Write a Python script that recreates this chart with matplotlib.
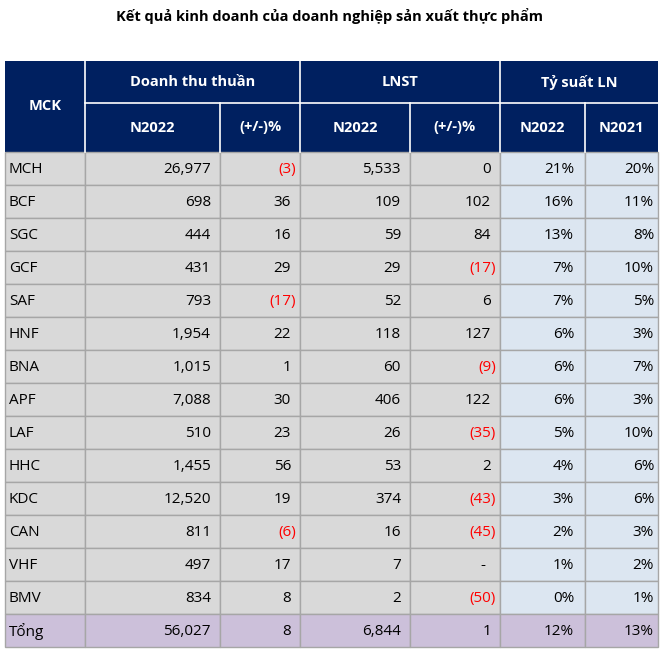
import matplotlib
matplotlib.use("Agg")
import matplotlib.pyplot as plt
from matplotlib.patches import Rectangle

plt.rcParams['font.family'] = ['Open Sans', 'DejaVu Sans']

title = "Kết quả kinh doanh của doanh nghiệp sản xuất thực phẩm"
tickers = ["MCH", "BCF", "SGC", "GCF", "SAF", "HNF", "BNA", "APF", "LAF", "HHC",
           "KDC", "CAN", "VHF", "BMV", "Tổng"]
revenue = [26977, 698, 444, 431, 793, 1954, 1015, 7088, 510, 1455, 12520, 811, 497, 834, 56027]
revenue_chg = [-3, 36, 16, 29, -17, 22, 1, 30, 23, 56, 19, -6, 17, 8, 8]
profit = [5533, 109, 59, 29, 52, 118, 60, 406, 26, 53, 374, 16, 7, 2, 6844]
profit_chg = [0, 102, 84, -17, 6, 127, -9, 122, -35, 2, -43, -45, None, -50, 1]
margin_2022 = [21, 16, 13, 7, 7, 6, 6, 6, 5, 4, 3, 2, 1, 0, 12]
margin_2021 = [20, 11, 8, 10, 5, 3, 7, 3, 10, 6, 6, 3, 2, 1, 13]
group_headers = ["Doanh thu thuần", "LNST", "Tỷ suất LN"]
sub_headers = ["N2022", "(+/-)%", "N2022", "(+/-)%", "N2022", "N2021"]

W, H = 660, 654
fig = plt.figure(figsize=(W / 100, H / 100), dpi=100)
ax = fig.add_axes([0, 0, 1, 1])
ax.set_xlim(0, W)
ax.set_ylim(H, 0)
ax.axis("off")

NAVY = "#002060"
GREY = "#D9D9D9"
BLUE = "#DCE6F1"
PURPLE = "#CCC0DA"
LINE = "#A6A6A6"
RED = "#FF0000"
FS = 11
FSH = 10.5

col_edges = [5, 85, 220, 300, 410, 500, 585, 658]
y_top, y_mid, y_head = 61, 103, 152
row_h = 33

ax.text(W / 2, 16, title, ha="center", va="center", fontsize=FSH, fontweight="bold", color="black")

# header background
ax.add_patch(Rectangle((col_edges[0], y_top), col_edges[-1] - col_edges[0], y_head - y_top,
                       facecolor=NAVY, edgecolor="none"))
lw_h = 1.2
for x in col_edges[1:-1]:
    if x in (col_edges[1], col_edges[3], col_edges[5]):
        ax.plot([x, x], [y_top, y_head], color="white", lw=lw_h)
    else:
        ax.plot([x, x], [y_mid, y_head], color="white", lw=lw_h)
ax.plot([col_edges[1], col_edges[-1]], [y_mid, y_mid], color="white", lw=lw_h)

ax.text((col_edges[0] + col_edges[1]) / 2, (y_top + y_head) / 2, "MCK", ha="center", va="center",
        fontsize=FSH, fontweight="bold", color="white")
for i, g in enumerate(group_headers):
    x0, x1 = col_edges[1 + 2 * i], col_edges[3 + 2 * i]
    ax.text((x0 + x1) / 2, (y_top + y_mid) / 2, g, ha="center", va="center",
            fontsize=FSH, fontweight="bold", color="white")
for i, s in enumerate(sub_headers):
    x0, x1 = col_edges[1 + i], col_edges[2 + i]
    ax.text((x0 + x1) / 2, (y_mid + y_head) / 2, s, ha="center", va="center",
            fontsize=FSH, fontweight="bold", color="white")


def fmt_num(v):
    return f"{v:,}"


def draw_acc(x_right, yc, v):
    if v is None:
        ax.text(x_right - 17, yc, "-", ha="center", va="center", fontsize=FS, color="black")
    elif v < 0:
        ax.text(x_right - 4, yc, f"({abs(v)})", ha="right", va="center", fontsize=FS, color=RED)
    else:
        ax.text(x_right - 9, yc, f"{v}", ha="right", va="center", fontsize=FS, color="black")


n = len(tickers)
for r in range(n):
    y0 = y_head + r * row_h
    yc = y0 + row_h / 2 + 1
    last = (r == n - 1)
    for c in range(7):
        x0, x1 = col_edges[c], col_edges[c + 1]
        if last:
            fc = PURPLE
        elif c >= 5:
            fc = BLUE
        else:
            fc = GREY
        ax.add_patch(Rectangle((x0, y0), x1 - x0, row_h, facecolor=fc, edgecolor=LINE, lw=1.0))
    ax.text(col_edges[0] + 4, yc, tickers[r], ha="left", va="center", fontsize=FS, color="black")
    ax.text(col_edges[2] - 9, yc, fmt_num(revenue[r]), ha="right", va="center", fontsize=FS)
    draw_acc(col_edges[3], yc, revenue_chg[r])
    ax.text(col_edges[4] - 9, yc, fmt_num(profit[r]), ha="right", va="center", fontsize=FS)
    draw_acc(col_edges[5], yc, profit_chg[r])
    ax.text(col_edges[6] - 11, yc, f"{margin_2022[r]}%", ha="right", va="center", fontsize=FS)
    ax.text(col_edges[7] - 4, yc, f"{margin_2021[r]}%", ha="right", va="center", fontsize=FS)

fig.savefig("out.png", dpi=100, facecolor="white")
